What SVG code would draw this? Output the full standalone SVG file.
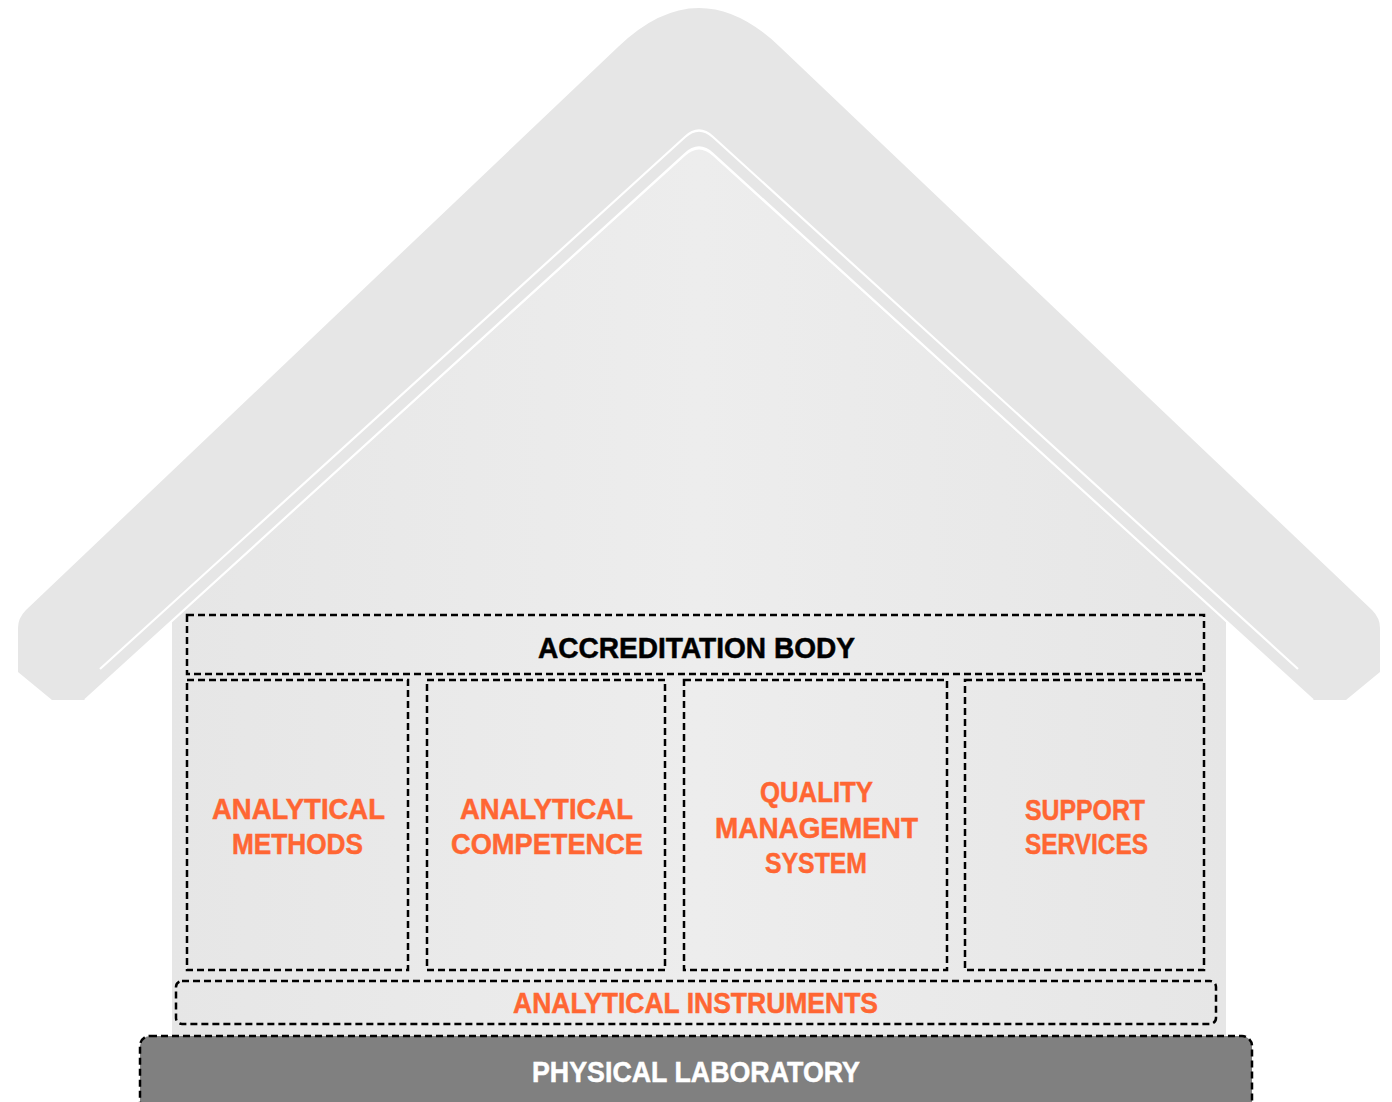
<svg xmlns="http://www.w3.org/2000/svg" width="1392" height="1102" viewBox="0 0 1392 1102">
<defs>
<linearGradient id="bodyGrad" x1="0" y1="0" x2="1" y2="0">
<stop offset="0" stop-color="#e6e6e6"/>
<stop offset="0.5" stop-color="#ededed"/>
<stop offset="1" stop-color="#e6e6e6"/>
</linearGradient>
<style>
.box{fill:none;stroke:#000;stroke-width:2.5;stroke-dasharray:7 4}
.t{font-family:"Liberation Sans",Arial,sans-serif;font-weight:bold;font-size:29px;text-anchor:middle;stroke-width:0.5}
.o{fill:#ff6633;stroke:#ff6633}
.k{fill:#000;stroke:#000}
.w{fill:#fff;stroke:#fff}
.wl{fill:none;stroke:#fff;stroke-width:2.2;stroke-linejoin:round}
</style>
</defs>
<rect width="1392" height="1102" fill="#fff"/>
<g id="house">
<path d="M 85 700 L 52 700 L 18 672 L 18 628 Q 18 618 26 610 L 618 47 Q 699 -31 780 47 L 1372 610 Q 1380 618 1380 628 L 1380 672 L 1346 700 L 1313 700 L 713 154 Q 699 141 685 154 Z" fill="#e6e6e6"/>
<path d="M 172 621 L 685 156 Q 699 143 713 156 L 1226 621 L 1226 1036 L 172 1036 Z" fill="url(#bodyGrad)"/>
<path class="wl" d="M 85 700 L 685 154 Q 699 141 713 154 L 1313 700"/>
<path class="wl" d="M 100 669 L 685 137 Q 699 124 713 137 L 1298 669" stroke-width="1.6"/>
</g>
<g id="connectors"/>
<g id="accreditation-body">
<rect class="box" x="187" y="615" width="1017" height="59"/>
<text class="t k" x="696.5" y="658" textLength="317" lengthAdjust="spacingAndGlyphs">ACCREDITATION BODY</text>
</g>
<g id="analytical-methods">
<rect class="box" x="187" y="680" width="221" height="290"/>
<text class="t o" x="298.5" y="819" textLength="173" lengthAdjust="spacingAndGlyphs">ANALYTICAL</text>
<text class="t o" x="297.5" y="854" textLength="131" lengthAdjust="spacingAndGlyphs">METHODS</text>
</g>
<g id="analytical-competence">
<rect class="box" x="427" y="680" width="238" height="290"/>
<text class="t o" x="546.5" y="819" textLength="173" lengthAdjust="spacingAndGlyphs">ANALYTICAL</text>
<text class="t o" x="547" y="854" textLength="192" lengthAdjust="spacingAndGlyphs">COMPETENCE</text>
</g>
<g id="quality-management-system">
<rect class="box" x="684" y="680" width="263" height="290"/>
<text class="t o" x="816.5" y="802" textLength="113" lengthAdjust="spacingAndGlyphs">QUALITY</text>
<text class="t o" x="816.5" y="838" textLength="203" lengthAdjust="spacingAndGlyphs">MANAGEMENT</text>
<text class="t o" x="816" y="873" textLength="102" lengthAdjust="spacingAndGlyphs">SYSTEM</text>
</g>
<g id="support-services">
<rect class="box" x="965" y="680" width="239" height="290"/>
<text class="t o" x="1085" y="820" textLength="120" lengthAdjust="spacingAndGlyphs">SUPPORT</text>
<text class="t o" x="1086.5" y="854" textLength="123" lengthAdjust="spacingAndGlyphs">SERVICES</text>
</g>
<g id="analytical-instruments">
<rect class="box" x="176" y="981" width="1040" height="43" rx="6"/>
<text class="t o" x="695.5" y="1013" textLength="365" lengthAdjust="spacingAndGlyphs">ANALYTICAL INSTRUMENTS</text>
</g>
<g id="physical-laboratory">
<rect class="box" x="140" y="1036" width="1112" height="80" rx="10" style="fill:#808080"/>
<text class="t w" x="696" y="1082" textLength="328" lengthAdjust="spacingAndGlyphs">PHYSICAL LABORATORY</text>
</g>
</svg>
